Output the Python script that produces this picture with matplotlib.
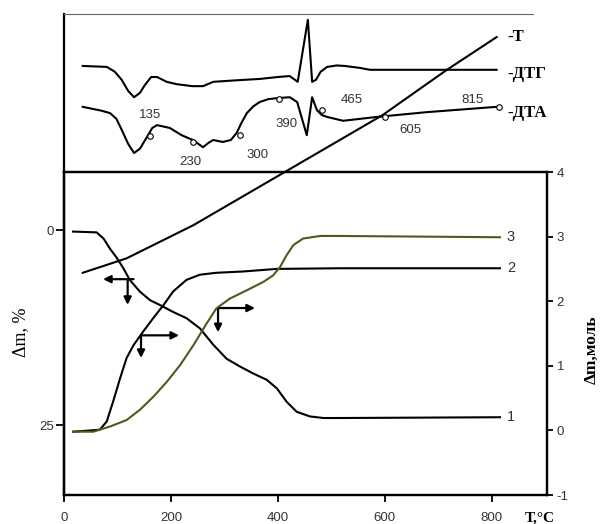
import matplotlib.pyplot as plt
import numpy as np

# ----------------------------
# Data
# ----------------------------
# lower panel: x = temperature, deg C
t1 = [17, 61, 74, 86, 99, 111, 123, 142, 161, 179, 204, 229, 254, 279, 304, 329, 354, 379,
      398, 416, 435, 460, 485, 516, 815]
dm1 = [0.2, 0.3, 1.1, 2.4, 3.6, 4.9, 6.4, 7.9, 9.0, 9.6, 10.5, 11.3, 12.6, 14.7, 16.5, 17.5,
       18.4, 19.2, 20.3, 22.0, 23.3, 23.9, 24.1, 24.1, 24.0]

t2 = [17, 67, 80, 92, 105, 117, 130, 148, 167, 186, 204, 229, 254, 285, 335, 398, 516, 815]
mol2 = [-0.02, 0.01, 0.14, 0.45, 0.81, 1.12, 1.32, 1.53, 1.74, 1.94, 2.15, 2.33, 2.41, 2.44,
        2.46, 2.50, 2.51, 2.51]

t3 = [17, 55, 86, 117, 142, 167, 192, 217, 242, 267, 285, 310, 342, 373, 391, 404, 416, 429,
      447, 479, 516, 815]
mol3 = [-0.02, -0.02, 0.06, 0.16, 0.32, 0.52, 0.75, 1.01, 1.32, 1.66, 1.89, 2.04, 2.17, 2.30,
        2.40, 2.53, 2.71, 2.87, 2.97, 3.01, 3.01, 2.99]

curve_labels = ['1', '2', '3']

# arrows: (x_tail, y_tail, x_head, y_head) in (deg C, dm %)
arrows = [
    (130, 6.3, 73, 6.3), (119, 6.3, 119, 9.6),
    (144, 13.5, 215, 13.5), (144, 13.5, 144, 16.4),
    (288, 10.0, 357, 10.0), (288, 10.0, 288, 13.1),
]

# upper panel (relative units 0..100)
t_T = [35, 117, 242, 409, 596, 716, 809]
u_T = [46.2, 49.2, 56.1, 66.9, 79.0, 88.4, 95.2]

t_dtg = [35, 80, 95, 108, 120, 131, 142, 151, 163, 174, 192, 211, 240, 260, 279, 320, 366, 400,
         422, 437, 456, 464, 471, 480, 492, 510, 525, 553, 572, 809]
u_dtg = [89.2, 89.0, 88.0, 86.3, 84.0, 82.7, 83.6, 85.2, 86.9, 86.9, 85.9, 85.4, 85.0, 85.0, 85.9,
         86.2, 86.5, 86.9, 87.1, 85.9, 98.8, 85.9, 86.3, 88.0, 89.0, 89.3, 89.2, 88.8, 88.4, 88.4]

t_dta = [35, 70, 86, 98, 108, 120, 131, 142, 155, 165, 174, 198, 220, 241, 260, 270, 279, 297, 312,
         323, 332, 342, 354, 366, 382, 398, 422, 436, 454, 464, 473, 482, 492, 522, 585, 679, 809]
u_dta = [80.7, 79.9, 79.4, 78.2, 75.9, 73.0, 71.1, 72.0, 74.4, 76.3, 76.9, 76.3, 74.8, 73.8, 72.3,
         73.2, 73.8, 73.4, 73.8, 75.3, 77.4, 79.4, 80.8, 81.7, 82.3, 82.5, 82.7, 81.7, 74.8, 82.7,
         80.0, 79.0, 78.6, 77.8, 78.6, 79.6, 80.7]

# marked points on the DTA curve and their labels
t_mark = [161, 241, 329, 402, 482, 600, 813]
u_mark = [74.6, 73.4, 74.8, 82.3, 80.0, 78.6, 80.7]
mark_labels = ['135', '230', '300', '390', '465', '605', '815']
t_lab = [161, 236, 361, 417, 538, 647, 763]
u_lab = [79.0, 69.2, 70.7, 77.1, 82.1, 75.9, 82.1]

trace_names = ['-T', '-ДТГ', '-ДТА']
u_names = [95.2, 87.5, 79.4]

# ----------------------------
# Figure
# ----------------------------
fig = plt.figure(figsize=(6.09, 5.24), dpi=100)
W, H = 609, 524

def px_box(x0, y0, x1, y1):
    return [x0 / W, 1 - y1 / H, (x1 - x0) / W, (y1 - y0) / H]

olive = '#56561c'
tick_col = '#333333'
sans = 'Liberation Sans'
serif = 'Liberation Serif'

ax1 = fig.add_axes(px_box(64, 172, 547, 495))
ax2 = ax1.twinx()

ax1.set_xlim(0, 903)
ax1.set_ylim(33.97, -7.44)
ax2.set_ylim(-1, 4)

ax1.plot(t1, dm1, color='k', lw=1.5)
ax2.plot(t2, mol2, color='k', lw=1.5)
ax2.plot(t3, mol3, color=olive, lw=1.5)

ax1.text(828, dm1[-1], curve_labels[0], ha='left', va='center',
         fontsize=10.5, color=tick_col, family=sans)
ax2.text(828, mol2[-1], curve_labels[1], ha='left', va='center',
         fontsize=10.5, color=tick_col, family=sans)
ax2.text(828, mol3[-1], curve_labels[2], ha='left', va='center',
         fontsize=10.5, color=tick_col, family=sans)

for x0, y0, x1, y1 in arrows:
    ax1.annotate('', xy=(x1, y1), xytext=(x0, y0),
                 arrowprops=dict(arrowstyle='-|>', color='k', lw=1.6,
                                 mutation_scale=11, shrinkA=0, shrinkB=0))

for ax in (ax1, ax2):
    for s in ax.spines.values():
        s.set_linewidth(1.6)

ax1.set_xticks([0, 200, 400, 600, 800])
ax1.set_yticks([0, 25])
ax2.set_yticks([-1, 0, 1, 2, 3, 4])
ax2.set_yticklabels(['-1', '0', '1', '2', '3', '4'])
ax1.tick_params(axis='both', direction='out', length=5, width=1.3,
                labelsize=9.5, labelcolor=tick_col, pad=7)
ax1.tick_params(axis='y', length=6, pad=1)
ax2.tick_params(axis='y', direction='out', length=4, width=1.3,
                labelsize=9.5, labelcolor=tick_col, pad=3)
for lab in ax1.get_xticklabels() + ax1.get_yticklabels() + ax2.get_yticklabels():
    lab.set_family(sans)

ax1.text(-0.089, 0.505, 'Δm, %', transform=ax1.transAxes, rotation=90,
         ha='center', va='center', family=serif, fontsize=13)
ax1.text(1.093, 0.449, 'Δm,моль', transform=ax1.transAxes, rotation=90,
         ha='center', va='center', family=serif, fontsize=12.5, fontweight='bold')
ax1.text(0.9855, -0.071, 'T,°C', transform=ax1.transAxes, ha='center', va='center',
         family=serif, fontsize=11, fontweight='bold')

# ----------------------------
# Upper panel overlay (T, DTG, DTA)
# ----------------------------
ax0 = fig.add_axes(px_box(64, 14, 533, 495))
ax0.patch.set_visible(False)
ax0.set_xlim(0, 877)
ax0.set_ylim(0, 100)
ax0.set_xticks([])
ax0.set_yticks([])
ax0.spines['right'].set_visible(False)
ax0.spines['bottom'].set_visible(False)
ax0.spines['left'].set_linewidth(1.6)
ax0.spines['top'].set_linewidth(0.8)
ax0.spines['top'].set_color('#666666')

ax0.plot(t_T, u_T, color='k', lw=1.5, clip_on=False)
ax0.plot(t_dtg, u_dtg, color='k', lw=1.5)
ax0.plot(t_dta, u_dta, color='k', lw=1.5)
ax0.plot(t_mark, u_mark, 'o', ms=4, mfc='white', mec='k', mew=0.8)
for t, u, s in zip(t_lab, u_lab, mark_labels):
    ax0.text(t, u, s, ha='center', va='center', fontsize=9.5,
             color=tick_col, family=sans)
for u, s in zip(u_names, trace_names):
    ax0.text(830, u, s, ha='left', va='center', fontsize=12,
             fontweight='bold', family=serif, clip_on=False)

fig.savefig('out.png', dpi=100)
